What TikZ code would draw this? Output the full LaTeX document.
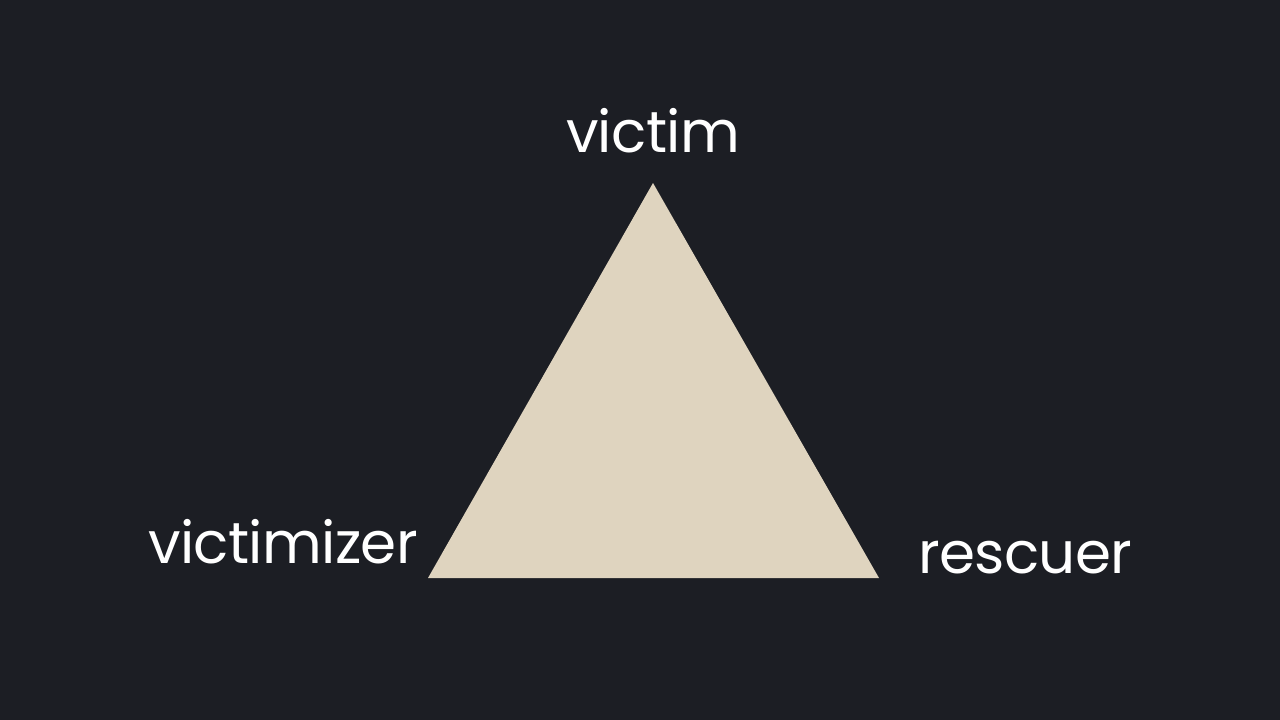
\documentclass[tikz,border=0pt]{standalone}
\usepackage{fontspec}
\setmainfont{Poppins}[LetterSpace=-1.1]
\definecolor{bg}{HTML}{1C1E24}
\definecolor{tri}{HTML}{DFD4BF}
\begin{document}
\begin{tikzpicture}[x=1pt,y=-1pt,
  lbl/.style={text=white,font=\fontsize{58}{58}\selectfont,inner sep=0pt}]
\fill[bg] (0,0) rectangle (1280,720);
\useasboundingbox (0,0) rectangle (1280,720);
\coordinate (top) at (653,183);
\coordinate (bl) at (428,578);
\coordinate (br) at (879,578);
\fill[tri] (top) -- (bl) -- (br) -- cycle;
\node[lbl,anchor=base] (victim) at (653,152) {victim};
\node[lbl,anchor=base west] (victimizer) at (148,563) {victimizer};
\node[lbl,anchor=base west] (rescuer) at (918,573) {rescuer};
\end{tikzpicture}
\end{document}
